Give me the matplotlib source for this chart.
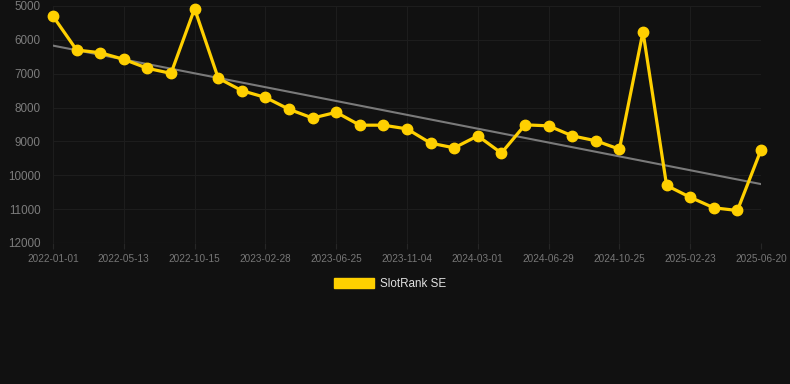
import numpy as np
import matplotlib
matplotlib.use("Agg")
import matplotlib.pyplot as plt
from matplotlib.patches import Patch

plt.rcParams['font.family'] = ['Liberation Sans', 'DejaVu Sans']

# SlotRank SE rank per sample (evenly spaced samples)
rank = [5300, 6300, 6380, 6575, 6840, 6990, 5080, 7130, 7500, 7700,
        8050, 8310, 8140, 8520, 8520, 8630, 9050, 9190, 8835, 9345,
        8510, 8540, 8835, 8980, 9230, 5760, 10300, 10650, 10960, 11040,
        9250]
tick_labels = ['2022-01-01', '2022-05-13', '2022-10-15', '2023-02-28', '2023-06-25',
               '2023-11-04', '2024-03-01', '2024-06-29', '2024-10-25', '2025-02-23',
               '2025-06-20']
trend_ends = [6170, 10260]

bg = '#111111'
yellow = '#ffd000'

fig = plt.figure(figsize=(7.9, 3.84), dpi=100, facecolor=bg)
ax = fig.add_axes([53/790, 1-243/384, (761-53)/790, (243-6)/384], facecolor=bg)

x = np.arange(len(rank))
ax.plot([x[0], x[-1]], trend_ends, color='#7a7a7a', lw=1.5, zorder=2)
ax.plot(x, rank, color=yellow, lw=2.3, marker='o', ms=7.5, clip_on=False, zorder=3)

ax.set_xlim(0, len(rank)-1)
ax.set_ylim(12000, 5000)
ax.set_yticks(range(5000, 12001, 1000))
ax.set_xticks(x[::3])
ax.set_xticklabels(tick_labels)

ax.grid(True, color='#1d1d1d', lw=0.8)
ax.set_axisbelow(True)
for s in ax.spines.values():
    s.set_visible(False)
ax.axhline(12000, color='#262626', lw=0.8, zorder=1)

ax.tick_params(axis='y', length=0, pad=9, labelsize=8.4, labelcolor='#7c7c7c')
ax.tick_params(axis='x', length=4, color='#262626', pad=4, labelsize=7.2, labelcolor='#777777')

fig.legend(handles=[Patch(facecolor=yellow, edgecolor=yellow, label='SlotRank SE')],
           loc='center', bbox_to_anchor=(390/790, 1-284/384), frameon=False,
           fontsize=8.4, labelcolor='#e0e0e0', handlelength=3.5, handleheight=0.95,
           handletextpad=0.5)

fig.savefig('out.png', dpi=100, facecolor=bg)
